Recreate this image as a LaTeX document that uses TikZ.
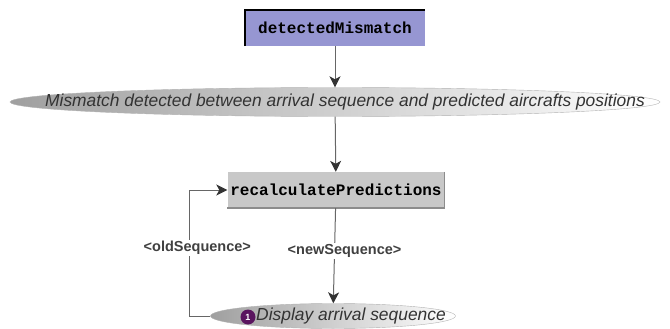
\documentclass[tikz,border=0pt]{standalone}
\usepackage{fontspec}
\setmainfont{Liberation Sans}
\newfontfamily\codefont{Liberation Mono}
\usetikzlibrary{shapes.geometric}
\usetikzlibrary{positioning}
\usetikzlibrary{arrows.meta}

\definecolor{eventblue}{RGB}{150,150,210}
\definecolor{taskgray}{RGB}{200,200,200}
\definecolor{markpurple}{RGB}{90,20,95}

\begin{document}
\begin{tikzpicture}
    [
    x=1pt,y=-1pt,
    task/.style={rectangle,inner sep=0pt,minimum height=36pt,
      font=\codefont\bfseries\fontsize{16}{18}\selectfont},
    event/.style={ellipse,draw=gray!60,inner sep=0pt,
      left color=gray!75,right color=white},
    label/.style={font=\itshape\fontsize{17.4}{19}\selectfont,text=black!80},
    flow/.style={-{Stealth[length=11pt,width=11pt,inset=3pt,black!80]},draw=black!60,line width=1pt},
    tag/.style={font=\bfseries\fontsize{14.5}{16}\selectfont,text=black!75,
      fill=white,inner sep=1pt},
    ]
    \useasboundingbox (0,0) rectangle (670,329);

    \node (dm) at (335,28) [task, fill=eventblue, minimum width=180pt] {detectedMismatch};
    \draw [line width=2pt] (dm.south west) -- (dm.north west) -- (dm.north east);

    \node (mm) at (335,102) [event, minimum width=650pt, minimum height=29pt] {};
    \node (mmtext) at (345,102) [label] {Mismatch detected between arrival sequence and predicted aircrafts positions};

    \node (rp) at (336,190) [task, fill=taskgray, minimum width=217pt] {recalculatePredictions};
    \draw [line width=1.5pt, black!45] (rp.north east) -- (rp.south east) -- (rp.south west);

    \node (da) at (333,316) [event, minimum width=245pt, minimum height=25pt] {};
    \node (datext) at (351,316) [label] {Display arrival sequence};
    \node (one) at (248,317) [circle, fill=markpurple, inner sep=0pt, minimum size=15pt,
      text=white, font=\bfseries\fontsize{9}{9}\selectfont] {1};

    \draw [flow] (dm) -- (mm);
    \draw [flow] (mm) -- (rp);
    \draw [flow] (rp) -- node [tag, pos=0.45, xshift=10pt] {<newSequence>} (da);
    \draw [flow] (da.west) -- ++(-21,0) |- node [tag, pos=0.27, xshift=8pt] {<oldSequence>} (rp.west);
  \end{tikzpicture}
\end{document}
